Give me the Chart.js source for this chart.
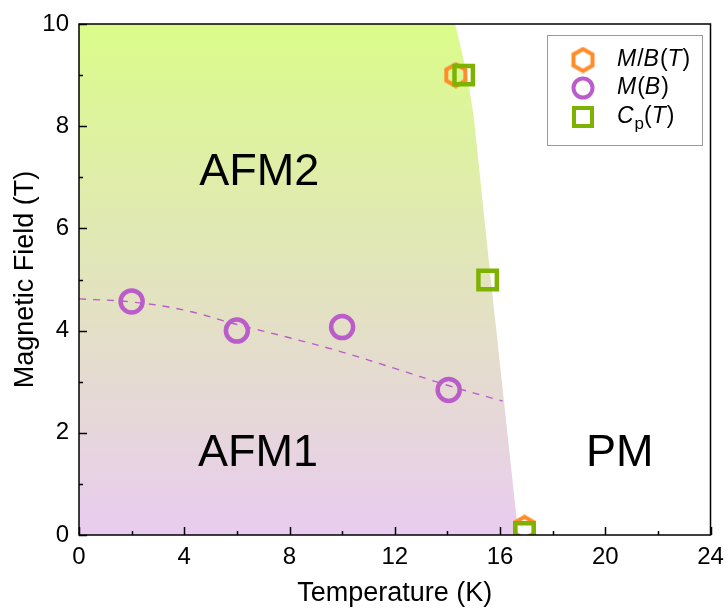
<!DOCTYPE html>
<html>
<head>
<meta charset="utf-8">
<script src="https://cdn.jsdelivr.net/npm/chart.js@4.4.1/dist/chart.umd.min.js"></script>
<style>
    html, body { margin: 0; padding: 0; background: #fff; }
    #wrap { position: relative; width: 728px; height: 610px; }
</style>
</head>
<body>
<div id="wrap"><canvas id="phase" width="728" height="610"></canvas></div>
<script>
// data
const mbTemp = [14.32, 16.93];
const mbField = [9.0, 0.14];

const mTemp = [2, 6, 10, 14.05];
const mField = [4.57, 4.0, 4.07, 2.84];

const cpTemp = [14.62, 15.53, 16.93];
const cpField = [9.0, 4.99, 0.05];

// dashed guide line through the M(B) points
const fitTemp = [0, 2, 4, 6, 8, 10, 12, 14, 16.1];
const fitField = [4.62, 4.56, 4.4, 4.12, 3.86, 3.58, 3.26, 2.93, 2.62];

// AFM / PM boundary (filled to the left)
const boundTemp = [0, 14.3, 14.75, 15.0, 15.65, 16.7];
const boundField = [10, 10, 9.0, 8.2, 5.0, 0];

const xTicks = [0, 4, 8, 12, 16, 20, 24];
const yTicks = [0, 2, 4, 6, 8, 10];

const phaseLabels = [
    { text: 'AFM2', x: 6.85, y: 7.1 },
    { text: 'AFM1', x: 6.8, y: 1.6 },
    { text: 'PM', x: 20.55, y: 1.6 }
];

const ORANGE = '#ff8c28';
const PURPLE = '#bb5ccb';
const GREEN = '#7db300';
const FONT = '"Liberation Sans", Arial, sans-serif';

function toXY(xs, ys) {
    return xs.map((x, i) => ({ x: x, y: ys[i] }));
}

// hexagon marker (no built in hexagon style)
function makeHex(size, color) {
    const c = document.createElement('canvas');
    c.width = size; c.height = size;
    const g = c.getContext('2d');
    const r = size / 2 - 2.5;
    g.beginPath();
    for (let i = 0; i < 6; i++) {
        const a = -Math.PI / 2 + i * Math.PI / 3;
        const px = size / 2 + r * Math.cos(a);
        const py = size / 2 + r * Math.sin(a);
        if (i === 0) g.moveTo(px, py); else g.lineTo(px, py);
    }
    g.closePath();
    g.lineWidth = 4;
    g.strokeStyle = color;
    g.lineJoin = 'miter';
    g.stroke();
    return c;
}
const hexImg = makeHex(27, ORANGE);

// inward ticks, frame, region labels and the legend
const decorPlugin = {
    id: 'decor',
    afterDatasetsDraw(chart) {
        const ctx = chart.ctx;
        const a = chart.chartArea;
        const xs = chart.scales.x, ys = chart.scales.y;
        ctx.save();

        // region labels
        ctx.fillStyle = '#000';
        ctx.font = '45px ' + FONT;
        ctx.textAlign = 'center';
        ctx.textBaseline = 'middle';
        phaseLabels.forEach(l => {
            ctx.fillText(l.text, xs.getPixelForValue(l.x), ys.getPixelForValue(l.y));
        });

        // ticks
        ctx.strokeStyle = '#000';
        ctx.lineWidth = 1.5;
        ctx.beginPath();
        for (let v = 0; v <= 24; v += 2) {
            const px = Math.round(xs.getPixelForValue(v)) + 0.5;
            const len = v % 4 === 0 ? 8 : 4;
            ctx.moveTo(px, a.bottom);
            ctx.lineTo(px, a.bottom - len);
        }
        for (let v = 0; v <= 10; v += 1) {
            const py = Math.round(ys.getPixelForValue(v)) + 0.5;
            const len = v % 2 === 0 ? 8 : 4;
            ctx.moveTo(a.left, py);
            ctx.lineTo(a.left + len, py);
        }
        ctx.stroke();
        ctx.strokeRect(a.left, a.top, a.right - a.left, a.bottom - a.top);

        // legend box
        const bx = 547, by = 35, bw = 155, bh = 110;
        ctx.fillStyle = '#fff';
        ctx.fillRect(bx, by, bw, bh);
        ctx.strokeStyle = '#9a9a9a';
        ctx.lineWidth = 1;
        ctx.strokeRect(bx + 0.5, by + 0.5, bw, bh);

        const mx = 583;
        const rows = [60, 88, 117];
        // hexagon
        ctx.drawImage(hexImg, mx - 13.5, rows[0] - 13.5);
        // circle
        ctx.beginPath();
        ctx.arc(mx, rows[1], 9.5, 0, Math.PI * 2);
        ctx.lineWidth = 4;
        ctx.strokeStyle = PURPLE;
        ctx.stroke();
        // square
        ctx.strokeStyle = GREEN;
        ctx.strokeRect(mx - 9, rows[2] - 9, 18, 18);

        // legend texts with mixed italics
        const it = 'italic 23px ' + FONT, up = '23px ' + FONT, sub = '17px ' + FONT;
        const entries = [
            [['M', it], ['/', up], ['B', it], ['(', up], ['T', it], [')', up]],
            [['M', it], ['(', up], ['B', it], [')', up]],
            [['C', it], ['p', sub, 7], ['(', up], ['T', it], [')', up]]
        ];
        ctx.fillStyle = '#000';
        ctx.textAlign = 'left';
        ctx.textBaseline = 'middle';
        entries.forEach((parts, i) => {
            let tx = 617;
            parts.forEach(p => {
                ctx.font = p[1];
                ctx.fillText(p[0], tx, rows[i] + (p[2] || 0));
                tx += ctx.measureText(p[0]).width + (p[1] === it ? 1 : 0);
            });
        });

        ctx.restore();
    }
};

const ctx = document.getElementById('phase');
new Chart(ctx, {
    type: 'scatter',
    data: {
        datasets: [
            {
                label: 'boundary',
                type: 'line',
                data: toXY(boundTemp, boundField),
                showLine: true,
                pointRadius: 0,
                borderWidth: 0,
                borderColor: 'rgba(0,0,0,0)',
                fill: 'origin',
                backgroundColor: function (c) {
                    const area = c.chart.chartArea;
                    if (!area) return '#e6e0d0';
                    const g = c.chart.ctx.createLinearGradient(0, area.top, 0, area.bottom);
                    g.addColorStop(0, '#dbfc8a');
                    g.addColorStop(1, '#e9ccf0');
                    return g;
                },
                order: 5
            },
            {
                label: 'fit',
                type: 'line',
                data: toXY(fitTemp, fitField),
                showLine: true,
                pointRadius: 0,
                borderColor: PURPLE,
                borderWidth: 1.4,
                borderDash: [7, 7],
                tension: 0.4,
                fill: false,
                order: 4
            },
            {
                label: 'M/B(T)',
                data: toXY(mbTemp, mbField),
                pointStyle: hexImg,
                pointRadius: 13,
                clip: 0,
                order: 3
            },
            {
                label: 'M(B)',
                data: toXY(mTemp, mField),
                pointStyle: 'circle',
                pointRadius: 11,
                borderWidth: 4.5,
                borderColor: PURPLE,
                backgroundColor: 'rgba(0,0,0,0)',
                clip: 0,
                order: 2
            },
            {
                label: 'Cp(T)',
                data: toXY(cpTemp, cpField),
                pointStyle: 'rect',
                pointRadius: 13,
                borderWidth: 4.5,
                borderColor: GREEN,
                backgroundColor: 'rgba(0,0,0,0)',
                clip: 0,
                order: 1
            }
        ]
    },
    options: {
        responsive: false,
        animation: false,
        layout: { padding: { top: 24, right: 11, left: 0, bottom: 0 } },
        plugins: {
            legend: { display: false },
            tooltip: { enabled: false }
        },
        scales: {
            x: {
                type: 'linear',
                min: 0,
                max: 24,
                afterFit: s => { s.height = 75; s.paddingLeft = 0; s.paddingRight = 0; },
                afterBuildTicks: s => { s.ticks = xTicks.map(v => ({ value: v })); },
                grid: { display: false, drawTicks: false },
                border: { display: false },
                ticks: { color: '#000', padding: 8, font: { family: FONT, size: 24 } },
                title: {
                    display: true,
                    text: 'Temperature (K)',
                    color: '#000',
                    font: { family: FONT, size: 27 },
                    padding: { top: 0, bottom: 0 }
                }
            },
            y: {
                type: 'linear',
                min: 0,
                max: 10,
                afterFit: s => { s.width = 79; s.paddingTop = 0; s.paddingBottom = 0; },
                afterBuildTicks: s => { s.ticks = yTicks.map(v => ({ value: v })); },
                grid: { display: false, drawTicks: false },
                border: { display: false },
                ticks: { color: '#000', padding: 10, font: { family: FONT, size: 24 } },
                title: {
                    display: true,
                    text: 'Magnetic Field (T)',
                    color: '#000',
                    font: { family: FONT, size: 27 },
                    padding: { top: 9, bottom: 0 }
                }
            }
        }
    },
    plugins: [decorPlugin]
});
</script>
</body>
</html>
